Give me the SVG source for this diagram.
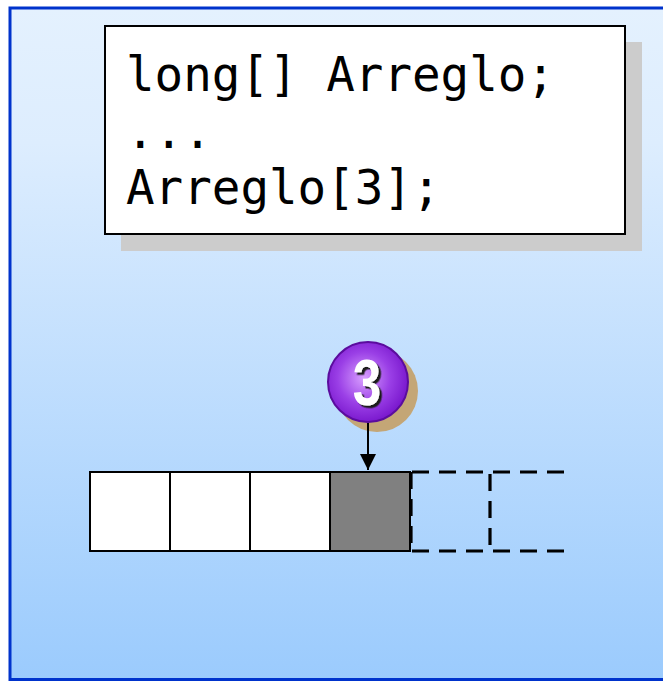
<svg xmlns="http://www.w3.org/2000/svg" width="663" height="681" viewBox="0 0 663 681">
<defs>
<linearGradient id="bg" x1="0" y1="0" x2="0" y2="1">
<stop offset="0" stop-color="#E4F1FE"/>
<stop offset="0.2" stop-color="#DDEDFE"/>
<stop offset="1" stop-color="#9BCBFD"/>
</linearGradient>
<radialGradient id="ball" cx="0.45" cy="0.45" r="0.6">
<stop offset="0" stop-color="#D9A0FF"/>
<stop offset="0.55" stop-color="#9A3FE6"/>
<stop offset="1" stop-color="#7411C9"/>
</radialGradient>
<filter id="ds" x="-30%" y="-30%" width="160%" height="160%">
<feDropShadow dx="2.5" dy="2.5" stdDeviation="0.6" flood-color="#1a1a1a" flood-opacity="1"/>
</filter>
<marker id="arr" markerWidth="16" markerHeight="16" refX="16" refY="8" orient="auto" markerUnits="userSpaceOnUse" viewBox="0 0 16 16">
<path d="M0,0 L16,8 L0,16 Z" fill="#000"/>
</marker>
<style>
.code{font-family:"DejaVu Sans Mono","Liberation Mono",monospace;font-size:47.5px;fill:#000}
.cell{fill:#fff;stroke:#000;stroke-width:2}
.dash{fill:none;stroke:#000;stroke-width:3.2;stroke-dasharray:17 10}
</style>
</defs>
<g id="frame">
<rect x="10" y="8" width="670" height="671.5" fill="url(#bg)" stroke="#0033CC" stroke-width="3"/>
</g>
<g id="code">
<rect x="121" y="42" width="521" height="209" fill="#CCCCCC"/>
<rect x="105" y="26" width="520" height="208" fill="#fff" stroke="#000" stroke-width="2"/>
<text class="code" x="126" y="91">long[] Arreglo;</text>
<text class="code" x="126" y="148">...</text>
<text class="code" x="126" y="204">Arreglo[3];</text>
</g>
<g id="badge">
<circle cx="377" cy="391" r="41" fill="#C4A676"/>
<circle cx="368" cy="382" r="40" fill="url(#ball)" stroke="#5B0C9E" stroke-width="2"/>
<g filter="url(#ds)">
<text x="0" y="0" text-anchor="middle" font-family="Liberation Sans, Arial, sans-serif" font-weight="bold" font-size="64" fill="#fff" transform="translate(367 405) scale(0.8 1)">3</text>
</g>
</g>
<g id="connectors">
<line x1="368" y1="423" x2="368" y2="470" stroke="#000" stroke-width="2" marker-end="url(#arr)"/>
</g>
<g id="array">
<rect class="cell" x="90" y="472" width="80" height="79"/>
<rect class="cell" x="170" y="472" width="80" height="79"/>
<rect class="cell" x="250" y="472" width="80" height="79"/>
<rect class="cell" x="330" y="472" width="80" height="79" style="fill:#808080"/>
<path class="dash" d="M412,472 H566 M412,551 H566 M411,472 V551 M490,474 V551"/>
</g>
</svg>
